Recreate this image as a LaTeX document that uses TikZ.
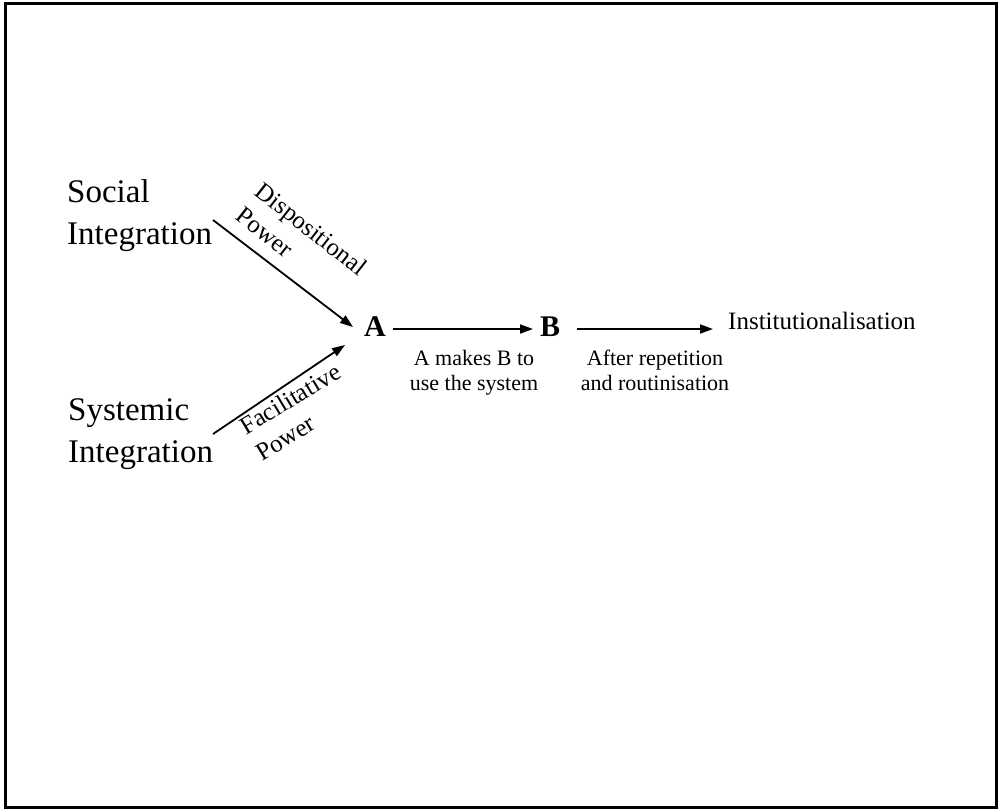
\documentclass[tikz,border=0pt]{standalone}
\usepackage{fontspec}
\setmainfont{Liberation Serif}
\usetikzlibrary{arrows.meta}
\begin{document}
\begin{tikzpicture}[x=1pt,y=-1pt,
  arr/.style={line width=1.8pt,-{Triangle[length=13pt,width=9pt]}},
  big/.style={font=\fontsize{33}{42}\selectfont,align=left,inner sep=0pt},
  letter/.style={font=\fontsize{30}{32}\bfseries\selectfont,inner sep=0pt},
  slab/.style={font=\fontsize{25}{31}\selectfont,align=left,inner sep=0pt},
  lab/.style={font=\fontsize{22}{25}\selectfont,align=center,inner sep=0pt},
  inst/.style={font=\fontsize{25}{30}\selectfont,inner sep=0pt}]
\useasboundingbox (0,0) rectangle (1000,811);
\draw[line width=3pt] (5,3) rectangle (996,807);

\node[big,anchor=base west] (soc) at (67,244) {Social\\Integration};
\node[big,anchor=base west] (sys) at (68,462) {Systemic\\Integration};
\node[letter] (A) at (375,327) {A};
\node[letter] (B) at (550,327) {B};
\node[inst,anchor=west] (inst) at (728,321) {Institutionalisation};

\coordinate (s1) at (213,220);
\coordinate (s2) at (213,434);
\coordinate (a1) at (353,327);
\coordinate (a2) at (345,345);
\coordinate (ab1) at (393,329);
\coordinate (ab2) at (533,329);
\coordinate (bi1) at (577,329);
\coordinate (bi2) at (713,329);

\draw[arr] (s1) -- (a1);
\draw[arr] (s2) -- (a2);
\draw[arr] (ab1) -- (ab2);
\draw[arr] (bi1) -- (bi2);

\node[slab,rotate=-38] (disp) at (302,241) {Dispositional\\Power};
\node[slab,rotate=31] (fac) at (298,412) {Facilitative\\Power};
\node[lab,anchor=base] (l1) at (474,390) {A makes B to\\use the system};
\node[lab,anchor=base] (l2) at (655,390) {After repetition\\and routinisation};
\end{tikzpicture}
\end{document}
